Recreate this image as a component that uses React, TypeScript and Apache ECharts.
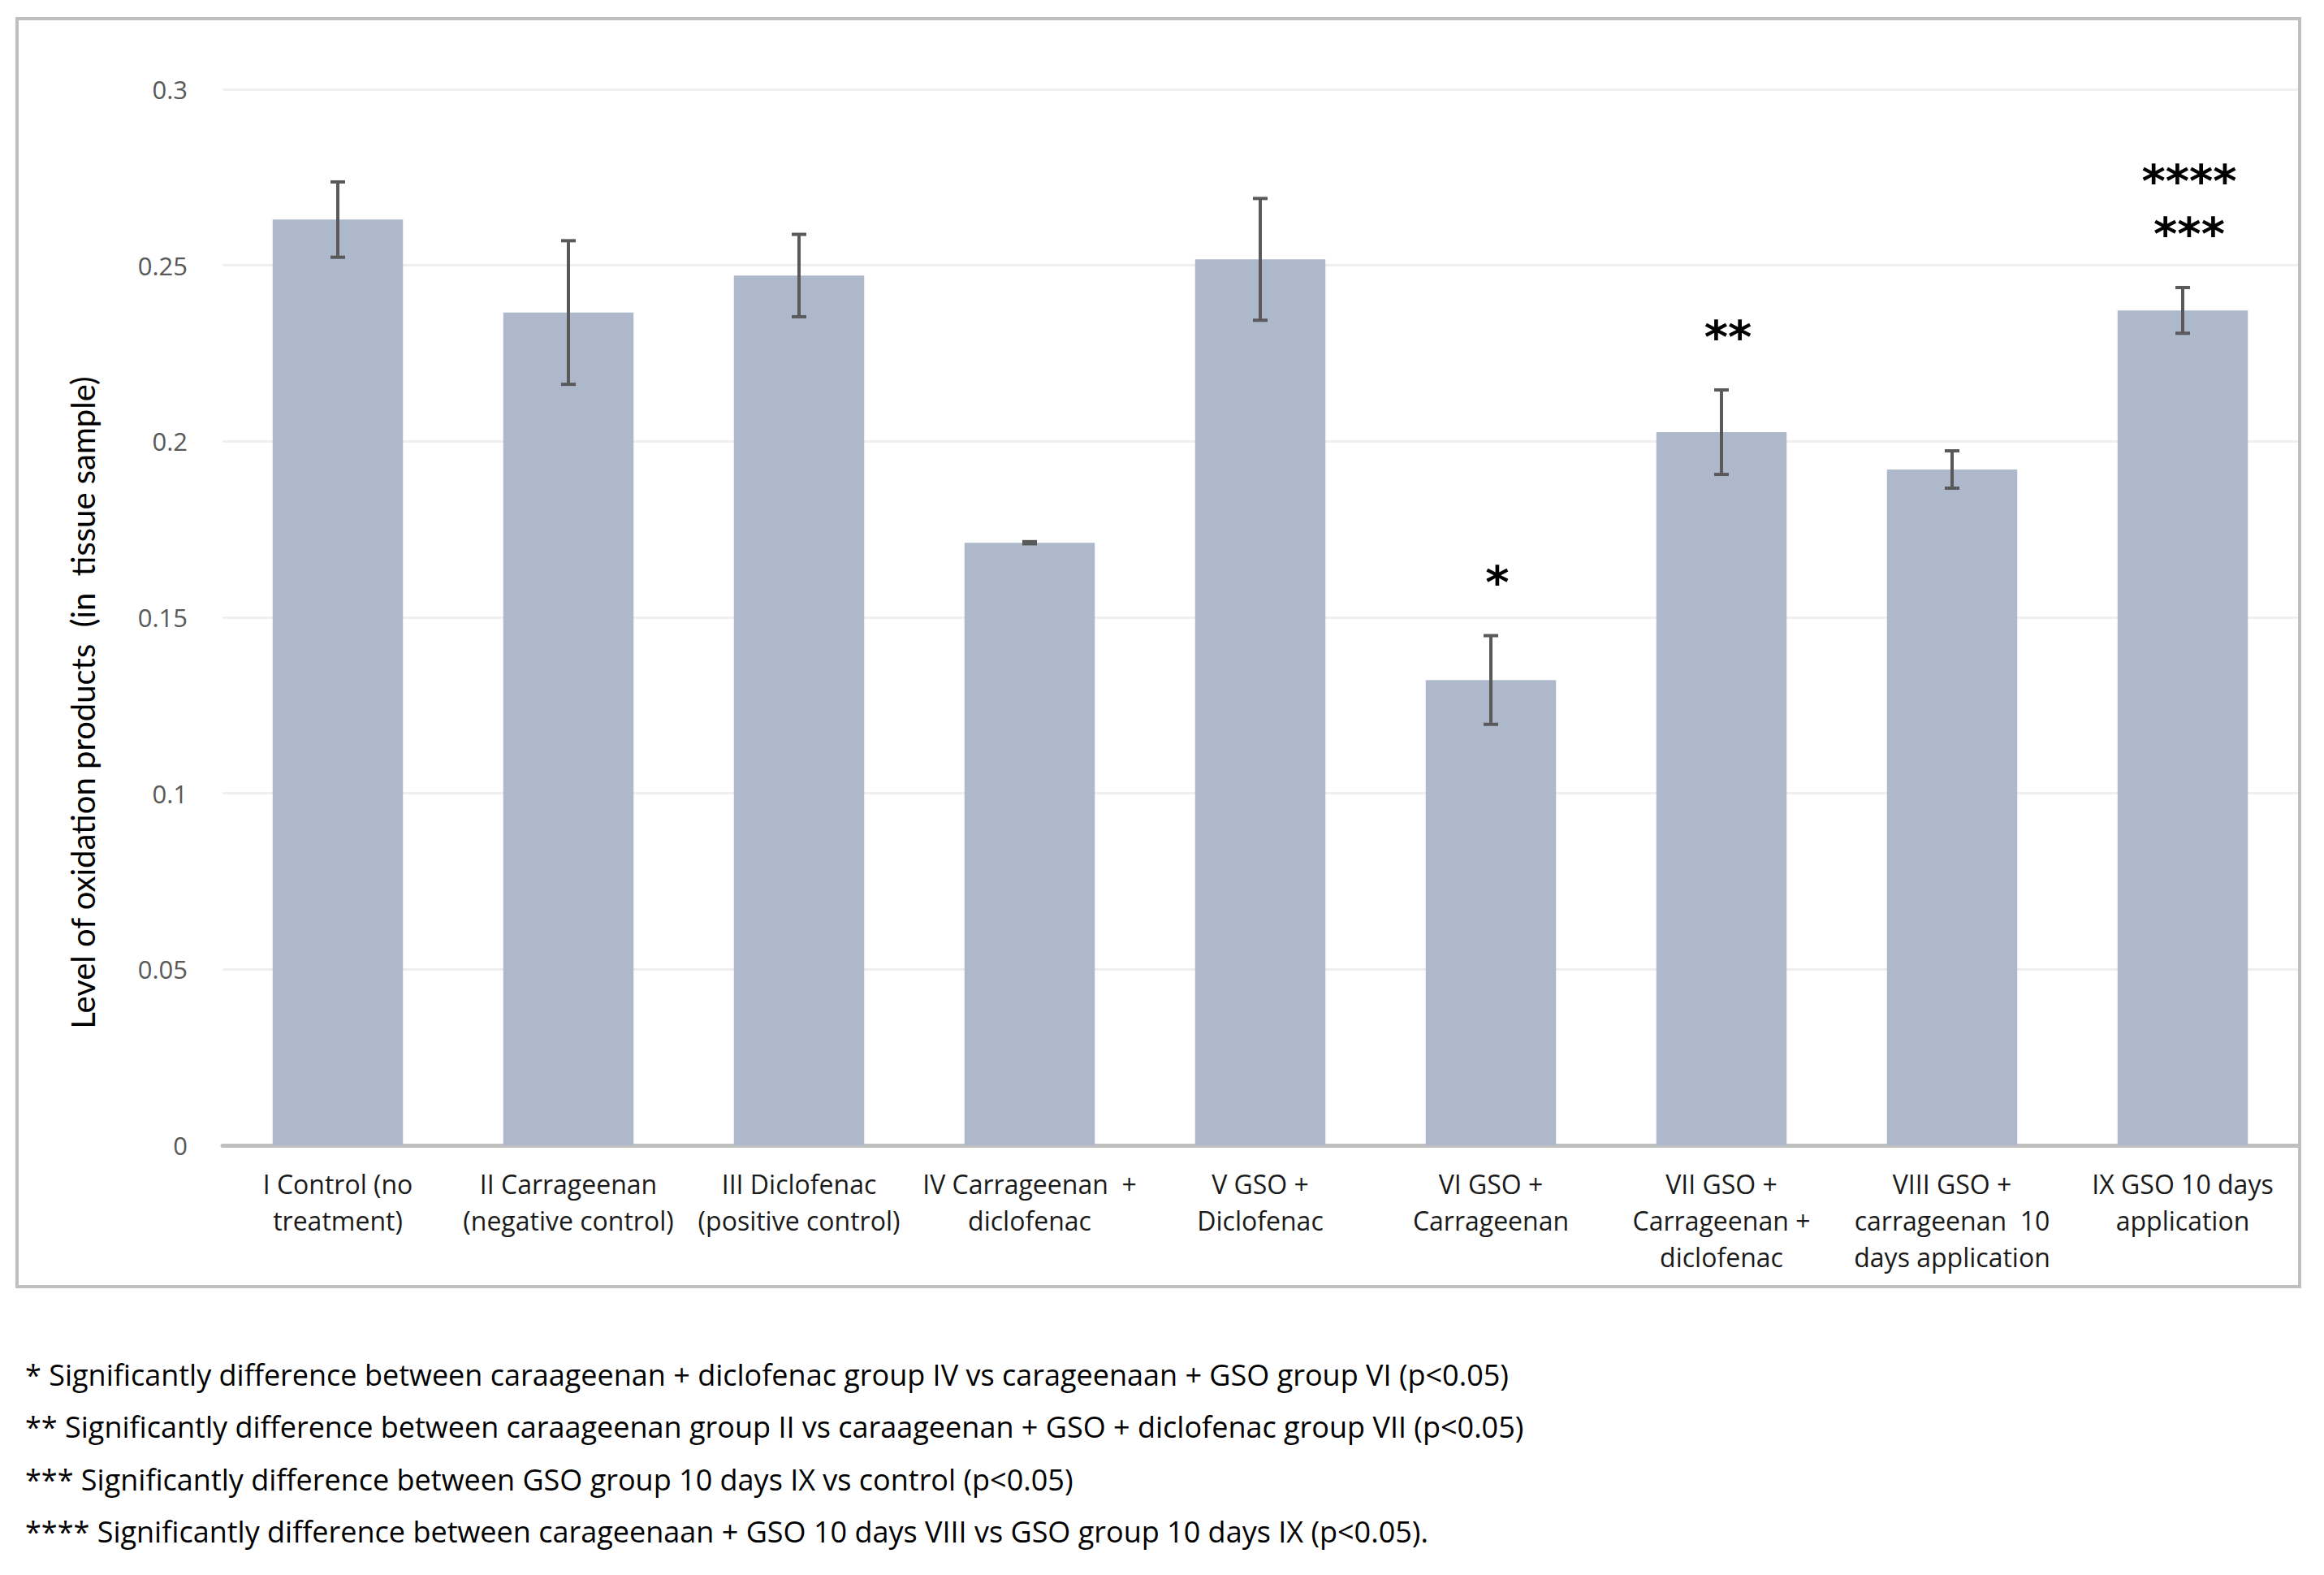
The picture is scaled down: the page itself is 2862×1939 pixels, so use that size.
import React, { useEffect, useRef } from "react";
import * as echarts from "echarts";

const categories = [
  "I Control (no\ntreatment)",
  "II Carrageenan\n(negative control)",
  "III Diclofenac\n(positive control)",
  "IV Carrageenan  +\ndiclofenac",
  "V GSO +\nDiclofenac",
  "VI GSO +\nCarrageenan",
  "VII GSO +\nCarrageenan +\ndiclofenac",
  "VIII GSO +\ncarrageenan  10\ndays application",
  "IX GSO 10 days\napplication",
];
const values = [0.263, 0.2366, 0.2471, 0.1712, 0.2517, 0.1322, 0.2026, 0.192, 0.2372];
const errors = [0.0107, 0.0204, 0.0117, 0.0003, 0.0173, 0.0126, 0.012, 0.0053, 0.0065];
const significance: string[][] = [[], [], [], [], [], ["*"], ["**"], [], ["***", "****"]];
const yTicks = { min: 0, max: 0.3, interval: 0.05 };
const yTitle = "Level of oxidation products  (in  tissue sample)";
const footnotes = [
  "* Significantly difference between caraageenan + diclofenac group IV vs carageenaan + GSO group VI (p<0.05)",
  "** Significantly difference between caraageenan group II vs caraageenan + GSO + diclofenac group VII (p<0.05)",
  "*** Significantly difference between GSO group 10 days IX vs control (p<0.05)",
  "**** Significantly difference between carageenaan + GSO 10 days VIII vs GSO group 10 days IX (p<0.05).",
];

const FONT = "'Open Sans', sans-serif";

export default function App() {
  const ref = useRef<HTMLDivElement>(null);
  useEffect(() => {
    if (!ref.current) return;
    const chart = echarts.init(ref.current, undefined, { renderer: "svg" });
    const errData = values.map((v, i) => [i, v - errors[i], v + errors[i]]);
    const sigData = values.map((v, i) => [i, v + errors[i], i]);
    chart.setOption({
      animation: false,
      backgroundColor: "#ffffff",
      grid: { left: 274, top: 110, width: 2556, height: 1300 },
      xAxis: {
        type: "category",
        data: categories,
        axisLine: { lineStyle: { color: "#BFBFBF", width: 5 } },
        axisTick: { show: false },
        axisLabel: {
          interval: 0,
          fontFamily: FONT,
          fontSize: 32,
          lineHeight: 45,
          color: "#1a1a1a",
          margin: 25,
          align: "center",
        },
      },
      yAxis: {
        type: "value",
        min: yTicks.min,
        max: yTicks.max,
        interval: yTicks.interval,
        axisLine: { show: false },
        axisTick: { show: false },
        splitLine: { lineStyle: { color: "#EFEFEF", width: 3 } },
        axisLabel: {
          fontFamily: FONT,
          fontSize: 31,
          color: "#595959",
          margin: 43,
          formatter: (v: number) => String(Math.round(v * 100) / 100),
        },
      },
      series: [
        {
          type: "bar",
          data: values,
          barWidth: "56.5%",
          itemStyle: { color: "#ADB9CA" },
          z: 2,
        },
        {
          type: "custom",
          data: errData,
          z: 3,
          renderItem: (params: any, api: any) => {
            const x = api.value(0);
            const lo = api.coord([x, api.value(1)]);
            const hi = api.coord([x, api.value(2)]);
            const cw = 9;
            const style = { stroke: "#595959", lineWidth: 4 };
            return {
              type: "group",
              children: [
                { type: "line", shape: { x1: lo[0], y1: lo[1], x2: hi[0], y2: hi[1] }, style },
                { type: "line", shape: { x1: hi[0] - cw, y1: hi[1], x2: hi[0] + cw, y2: hi[1] }, style },
                { type: "line", shape: { x1: lo[0] - cw, y1: lo[1], x2: lo[0] + cw, y2: lo[1] }, style },
              ],
            };
          },
        },
        {
          type: "custom",
          data: sigData,
          z: 4,
          renderItem: (params: any, api: any) => {
            const i = api.value(2);
            const top = api.coord([api.value(0), api.value(1)]);
            const lines = significance[i];
            return {
              type: "group",
              children: lines.map((s, k) => ({
                type: "text",
                style: {
                  text: s,
                  x: top[0] + 8,
                  y: top[1] - 66 - k * 65,
                  textAlign: "center",
                  textVerticalAlign: "middle",
                  font: "bold 56px 'DejaVu Sans'",
                  fill: "#000",
                },
              })),
            };
          },
        },
      ],
      graphic: [
        {
          type: "rect",
          shape: { x: 21, y: 23, width: 2811, height: 1561 },
          style: { fill: "none", stroke: "#BFBFBF", lineWidth: 4 },
          silent: true,
        },
        {
          type: "text",
          x: 102,
          y: 865,
          rotation: Math.PI / 2,
          style: {
            text: yTitle,
            font: "40px Lato, 'Open Sans', sans-serif",
            fill: "#000",
            textAlign: "center",
            textVerticalAlign: "middle",
          },
        },
        ...footnotes.map((t, k) => ({
          type: "text",
          left: 31,
          top: 1674 + k * 64.5,
          style: { text: t, font: `36px ${FONT}`, fill: "#000" },
        })),
      ],
    });
    return () => chart.dispose();
  }, []);
  return (
    <div
      ref={ref}
      style={{ position: "absolute", left: 0, top: 0, width: 2862, height: 1939 }}
    />
  );
}
